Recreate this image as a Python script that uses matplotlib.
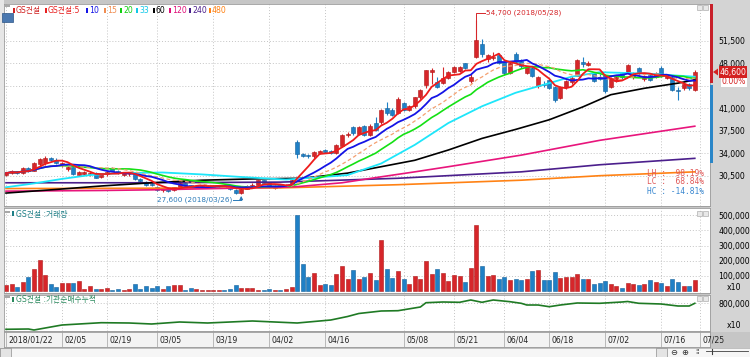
import numpy as np
import pandas as pd
import matplotlib
matplotlib.use("Agg")
import matplotlib.pyplot as plt
from matplotlib import font_manager
from matplotlib.patches import Rectangle, Polygon

# GS건설 daily candles, 2018/01/22 .. 2018/07/24
opens = [30600, 30900, 31200, 30900, 31700, 31300, 32300, 32400, 33200, 33000,
         32200, 31500, 31800, 30600, 30800, 30700, 30900, 30300, 30700, 31700,
         31300, 30600, 30700, 30800, 30000, 29500, 29200, 28800, 28200, 28600,
         28200, 28800, 29300, 29000, 28700, 28800, 28800, 28800, 28850, 28900,
         28700, 28300, 27800, 28500, 28900, 29100, 29800, 29300, 28600, 29000,
         28800, 29100, 35800, 33800, 33700, 33500, 34100, 34500, 34300, 34000,
         35100, 36800, 38000, 37000, 38200, 36800, 38700, 38800, 41000, 40700,
         40300, 41800, 40700, 41300, 42700, 44600, 46700, 45100, 44900, 45700,
         46600, 46800, 48000, 45200, 49000, 51000, 48700, 48800, 49300, 48200,
         46500, 49500, 48400, 46500, 47200, 44400, 44800, 45400, 44300, 42600,
         44300, 45000, 46000, 48200, 47700, 46400, 45900, 46100, 44300, 45300,
         46400, 46600, 45800, 47200, 45500, 46200, 45900, 47200, 45700, 45900,
         43900, 44100, 44700, 43900]
highs = [31000, 31400, 31300, 31900, 31800, 32700, 33300, 33600, 33400, 33200,
         32700, 32000, 31900, 31200, 31200, 31000, 31000, 30800, 31200, 31900,
         31400, 31100, 31000, 30900, 30100, 29600, 29400, 28900, 28600, 28700,
         28800, 29500, 29400, 29100, 29000, 29100, 29000, 29000, 29000, 29000,
         28800, 28400, 28600, 29000, 29300, 29900, 29900, 29400, 29000, 29100,
         29200, 30000, 36100, 34000, 33900, 34400, 34500, 34700, 34500, 35400,
         37000, 37300, 38200, 38200, 38400, 38600, 39600, 40800, 42000, 41000,
         42700, 42000, 41500, 42800, 44000, 47000, 47200, 45800, 47400, 46800,
         47500, 47600, 48100, 46300, 54700, 51800, 49500, 49700, 49600, 48400,
         48300, 49800, 48600, 47600, 47400, 46000, 45200, 45600, 44500, 44500,
         45400, 46000, 48700, 48900, 48300, 46600, 46300, 46300, 45900, 46000,
         46600, 47900, 46600, 47400, 46200, 46500, 46700, 47500, 46200, 46100,
         44300, 45000, 44900, 46900]
lows = [30400, 30700, 30800, 30800, 31100, 31200, 32000, 32200, 32800, 32300,
        31900, 31200, 30600, 30400, 30600, 30500, 30100, 30200, 30500, 31200,
        30800, 30500, 30500, 29900, 29500, 28900, 28900, 28100, 28000, 28000,
        28100, 28700, 28800, 28700, 28600, 28700, 28600, 28700, 28700, 28600,
        28300, 27700, 27600, 28400, 28800, 29000, 29300, 28700, 28500, 28700,
        28700, 29000, 33300, 33400, 33300, 33300, 33900, 34000, 33800, 33900,
        35000, 36500, 36900, 36900, 36700, 36700, 37400, 38600, 40000, 39800,
        40100, 40500, 40500, 41100, 42500, 44200, 44800, 44200, 44700, 45500,
        46400, 46600, 47100, 44900, 48800, 49000, 48200, 48500, 47900, 46200,
        46300, 48000, 47300, 46300, 45800, 44200, 44300, 44000, 42000, 42400,
        44000, 44800, 46400, 47400, 47500, 45000, 45400, 43400, 44100, 45000,
        45600, 46400, 45500, 46200, 45300, 45200, 45700, 45900, 45500, 43600,
        42300, 43900, 43900, 43700]
closes = [30900, 31200, 30900, 31700, 31300, 32400, 33100, 33200, 33000, 32500,
          32400, 31900, 30800, 31000, 31000, 30900, 30200, 30700, 31000, 31300,
          30900, 30900, 30800, 30000, 29600, 29100, 29000, 28200, 28400, 28100,
          28700, 29300, 28900, 28800, 28900, 28950, 28900, 28900, 28950, 28700,
          28400, 27800, 28500, 28900, 29100, 29800, 29400, 28800, 28900, 28800,
          29100, 29800, 33800, 33600, 33500, 34200, 34300, 34200, 34000, 35300,
          36800, 37000, 37100, 38000, 36900, 38300, 37600, 40700, 40200, 40000,
          42500, 40700, 41300, 42700, 43800, 46900, 46900, 44300, 45700, 46600,
          47400, 47400, 47200, 45900, 51600, 49500, 49200, 49000, 48100, 46500,
          48100, 48200, 47500, 47400, 46000, 45800, 44600, 44200, 42300, 44300,
          45200, 45700, 48500, 47900, 48000, 45200, 45600, 43600, 45700, 45800,
          45800, 47700, 46400, 46400, 46000, 45400, 46500, 46100, 46000, 43800,
          43700, 44800, 44100, 46600]

# volume (x10 shares), thousands
volume_k = [39, 50, 28, 61, 94, 144, 203, 105, 46, 28,
            54, 54, 54, 65, 17, 33, 17, 17, 24, 11,
            13, 11, 17, 50, 13, 33, 24, 33, 17, 33,
            39, 39, 11, 24, 17, 11, 11, 7, 7, 11,
            17, 39, 22, 24, 24, 11, 11, 17, 11, 7,
            17, 28, 503, 181, 94, 120, 39, 46, 39, 111,
            163, 83, 142, 83, 94, 120, 76, 338, 148, 87,
            131, 83, 46, 98, 79, 200, 116, 144, 120, 67,
            107, 103, 61, 150, 436, 163, 100, 105, 79, 94,
            72, 79, 72, 83, 133, 137, 72, 76, 126, 87,
            94, 91, 116, 79, 79, 50, 54, 65, 50, 33,
            24, 54, 50, 39, 50, 72, 61, 54, 33, 79,
            58, 33, 33, 72]

# institutional net-buy cumulative (x10), thousands, at some days
inst_idx = [0, 4, 5, 10, 17, 22, 26, 31, 36, 44, 52, 58, 61, 63, 67, 70, 74, 75, 78,
            81, 83, 85, 87, 90, 92, 93, 95, 97, 99, 102, 106, 110, 111, 113, 117,
            120, 122, 123]
inst_val = [540, 543, 533, 583, 606, 603, 593, 613, 603, 623, 603, 633, 668, 698, 723,
            726, 763, 806, 813, 810, 833, 810, 833, 816, 800, 783, 783, 766, 783, 803,
            800, 813, 818, 800, 793, 773, 773, 800]

# long moving averages
ma33_idx = [0, 5, 10, 15, 20, 28, 35, 42, 50, 55, 61, 67, 73, 79, 85, 91, 97, 101, 106, 114, 123]
ma33_val = [28700, 29300, 30000, 30600, 30900, 31000, 30700, 30300, 29900, 30200, 30600,
            32400, 35300, 38700, 41300, 43400, 44900, 45900, 46600, 46400, 45900]
ma60_idx = [0, 8, 17, 26, 35, 44, 53, 61, 67, 73, 79, 85, 91, 97, 103, 108, 114, 120, 123]
ma60_val = [27800, 28300, 28900, 29400, 29800, 30000, 30100, 30900, 31900, 32900, 34500,
            36300, 37700, 39200, 41200, 43100, 44100, 44900, 45400]
ma120_idx = [0, 17, 26, 49, 52, 60, 66, 73, 79, 92, 106, 123]
ma120_val = [28100, 28200, 28300, 28700, 28800, 29400, 30200, 31100, 31900, 33700, 36000, 38200]
ma240_idx = [0, 25, 49, 70, 92, 106, 123]
ma240_val = [29400, 29400, 29500, 30100, 31100, 32200, 33200]
ma480_idx = [0, 49, 70, 92, 106, 123]
ma480_val = [28500, 28600, 29100, 29800, 30500, 31100]

tick_idx = [0, 10, 18, 27, 37, 47, 57, 71, 80, 89, 97, 107, 117, 124]
tick_lbl = ['2018/01/22', '02/05', '02/19', '03/05', '03/19', '04/02', '04/16',
            '05/08', '05/21', '06/04', '06/18', '07/02', '07/16', '07/25']
price_ticks = [30500, 34000, 37500, 41000, 44500, 48000, 51500]
vol_ticks = [100000, 200000, 300000, 400000, 500000]

# fonts
names = {f.name for f in font_manager.fontManager.ttflist}
if 'Liberation Sans Narrow' in names:
    NAR, FS = 'Liberation Sans Narrow', 7.2
else:
    NAR, FS = 'DejaVu Sans', 5.6
KR = [NAR, 'Noto Sans CJK KR']

RED = '#d6262a'
BLUE = '#1f80c6'
GRID = '#c4c4c4'

W, H = 750, 357
fig = plt.figure(figsize=(7.5, 3.57), dpi=100)
fig.patch.set_facecolor('#c6c6c6')


def fx(px):
    return px / W


def fy(py):
    return 1 - py / H


def prect(x0, y0, x1, y1, **kw):
    r = Rectangle((fx(x0), fy(y1)), (x1 - x0) / W, (y1 - y0) / H,
                  transform=fig.transFigure, **kw)
    fig.add_artist(r)
    return r


def add_ax(y0, y1, x0=4, x1=710):
    return fig.add_axes([fx(x0), fy(y1), (x1 - x0) / W, (y1 - y0) / H])


# background pieces
prect(710, 0, 750, 332, fc='#d4d4d4', ec='none', zorder=-2)
prect(0, 0, 4, 348, fc='#e6e6e6', ec='none', zorder=-2)

ax_p = add_ax(4, 206)
ax_v = add_ax(208, 293)
ax_i = add_ax(295, 331)
ax_d = add_ax(332, 347)

n = len(closes)
x = np.arange(n)
o = np.array(opens)
h = np.array(highs)
l = np.array(lows)
c = np.array(closes)
up = c >= o
cols = np.where(up, RED, BLUE)
edges = np.where(up, '#b01818', '#15609a')

xl = ((4 - 6) / 5.6, (710 - 6) / 5.6)
for ax in (ax_p, ax_v, ax_i, ax_d):
    ax.set_xlim(*xl)
    ax.set_facecolor('white')
    for s in ax.spines.values():
        s.set_color('#9a9a9a')
        s.set_linewidth(0.6)
    ax.set_xticks(tick_idx)
    ax.tick_params(axis='x', length=0, labelbottom=False)
    ax.yaxis.tick_right()
    ax.tick_params(axis='y', length=0, pad=6, labelsize=FS)
    ax.grid(True, color=GRID, linestyle=(0, (1, 2)), linewidth=0.7)
    ax.set_axisbelow(True)

# price panel (44,500 label sits under the 0.00% box in the original, so only its grid line)
ax_p.set_ylim(25787, 57210)
ax_p.set_yticks(price_ticks)
ax_p.set_yticklabels(['' if v == 44500 else f'{v:,}' for v in price_ticks],
                     fontfamily=NAR, fontsize=FS)
ax_p.vlines(x, l, h, colors=cols, linewidth=0.8, zorder=2)
body = np.maximum(np.abs(c - o), 60)
ax_p.bar(x, body, bottom=np.minimum(o, c), width=0.72, color=cols,
         edgecolor=edges, linewidth=0.4, zorder=2)

cs = pd.Series(closes, dtype=float)
ma5 = cs.rolling(5, min_periods=1).mean()
ma10 = cs.rolling(10, min_periods=1).mean()
ma15 = cs.rolling(15, min_periods=1).mean()
ma20 = cs.rolling(20, min_periods=1).mean()

ax_p.plot(ma480_idx, ma480_val, color='#ff8214', lw=1.2, zorder=3)
ax_p.plot(ma240_idx, ma240_val, color='#4b1f8c', lw=1.2, zorder=3)
ax_p.plot(ma120_idx, ma120_val, color='#e8157c', lw=1.2, zorder=3)
ax_p.plot(ma60_idx, ma60_val, color='#000000', lw=1.2, zorder=3)
ax_p.plot(ma33_idx, ma33_val, color='#1ee6fa', lw=1.3, zorder=3)
ax_p.plot(x, ma20, color='#14e014', lw=1.2, zorder=3)
ax_p.plot(x, ma15, color='#f4a070', lw=0.9, ls=(0, (3, 2)), zorder=3)
ax_p.plot(x, ma10, color='#1414e6', lw=1.3, zorder=3)
ax_p.plot(x, ma5, color='#ee1c1c', lw=1.3, zorder=4)

# high / low annotations
ih = int(np.argmax(h))
y_top = 55810
ax_p.plot([ih, ih, ih + 1.6], [h[ih], y_top, y_top], color=RED, lw=0.7, zorder=4)
ax_p.text(ih + 1.7, y_top, f'{h[ih]:,} (2018/05/28)', color=RED, fontsize=FS - 0.4,
          fontfamily=NAR, va='center', ha='left')
il = int(np.argmin(l))
y_bot = 26720
ax_p.annotate('', xy=(il, l[il] - 250), xytext=(il, y_bot),
              arrowprops=dict(arrowstyle='-|>', color='#2a7ab8', lw=0.7,
                              mutation_scale=5, shrinkA=0, shrinkB=0), zorder=4)
ax_p.plot([il - 1.5, il], [y_bot, y_bot], color='#2a7ab8', lw=0.7, zorder=4)
ax_p.text(il - 1.6, y_bot, f'{l[il]:,} (2018/03/26)', color='#2a7ab8',
          fontsize=FS - 0.4, fontfamily=NAR, va='center', ha='right')

# LH / LC / HC box
for yy, txt, col in [(173, 'LH :  98.19%', '#e05858'), (182, 'LC :  68.84%', '#e05858'),
                     (191, 'HC : -14.81%', '#3a88d0')]:
    fig.text(fx(704), fy(yy), txt, color=col, fontsize=5.7, family='DejaVu Sans Mono',
             ha='right', va='center')

# volume panel
ax_v.set_ylim(-11500, 546000)
ax_v.set_yticks(vol_ticks)
ax_v.set_yticklabels([f'{v:,}' for v in vol_ticks], fontfamily=NAR, fontsize=FS)
ax_v.bar(x, np.array(volume_k) * 1000, width=0.72, color=cols, edgecolor=edges,
         linewidth=0.4, zorder=2)

# institutional cumulative panel
ax_i.set_ylim(523000, 883000)
ax_i.set_yticks([800000])
ax_i.set_yticklabels(['800,000'], fontfamily=NAR, fontsize=FS)
ax_i.plot(inst_idx, np.array(inst_val) * 1000, color='#1f7a24', lw=1.2, zorder=3)

# date band
ax_d.set_facecolor('#f3f3f3')
ax_d.set_ylim(0, 1)
ax_d.set_yticks([])
ax_d.grid(False)
ax_d.vlines(tick_idx, 0, 1, color='#b0b0b0', lw=0.6)
for ti, tl in zip(tick_idx, tick_lbl):
    ax_d.text(ti + 0.45, 0.45, tl, fontsize=FS, fontfamily=NAR, color='#222222',
              ha='left', va='center')

fig.text(fx(734), fy(287), 'x10', fontsize=FS, family=NAR, ha='center', va='center')
fig.text(fx(734), fy(325), 'x10', fontsize=FS, family=NAR, ha='center', va='center')

# legend row
legend = [(13, 'GS건설', '#d02020'), (45, 'GS건설:5', '#e82020'), (86, '10', '#1414e6'),
          (104, '15', '#f08c50'), (120, '20', '#10d010'), (136, '33', '#10c8e8'),
          (153, '60', '#000000'), (169, '120', '#e0107a'), (189, '240', '#4b1f8c'),
          (209, '480', '#ff8214')]
for px, lab, col in legend:
    prect(px, 7.5, px + 2, 12.5, fc=col, ec='none', zorder=5)
    fig.text(fx(px + 3), fy(10.3), lab, color=col, fontsize=5.6, family=KR,
             ha='left', va='center')

for yy, lab, col in [(214, 'GS건설 :거래량', '#1e7f86'), (299, 'GS건설 :기관순매수누적', '#2a8a5e')]:
    prect(12, yy - 2.5, 14, yy + 2.5, fc=col, ec='none', zorder=5)
    fig.text(fx(15.5), fy(yy + 0.3), lab, color=col, fontsize=5.6, family=KR,
             ha='left', va='center')

# small panel buttons
for yy in (5, 211, 296):
    prect(5, yy, 10, yy + 2, fc='#a8a8a8', ec='none', zorder=5)
    prect(697, yy, 702, yy + 5, fc='#e8e8e8', ec='#a0a0a0', lw=0.4, zorder=5)
    prect(703, yy, 708, yy + 5, fc='#e8e8e8', ec='#a0a0a0', lw=0.4, zorder=5)
prect(2, 13, 13, 22, fc='#4a78b0', ec='#2c5486', lw=0.5, zorder=5)
fig.text(fx(7.5), fy(17.5), '호', color='white', fontsize=5.5, family=KR,
         ha='center', va='center')

# right edge price range bar and current price box
prect(710, 4, 713, 83, fc='#c8202a', ec='none', zorder=5)
prect(710, 85, 713, 163, fc='#2a86c8', ec='none', zorder=5)
fig.add_artist(Polygon([(fx(713), fy(72)), (fx(718), fy(68.5)), (fx(718), fy(75.5))],
                       closed=True, transform=fig.transFigure, fc='#d42020', ec='none', zorder=5))
prect(719, 66, 747, 78, fc='#d42020', ec='none', zorder=5)
fig.text(fx(733), fy(72.2), f'{closes[-1]:,}', color='white', fontsize=FS, family=NAR,
         ha='center', va='center', zorder=6)
prect(721, 77.5, 747, 86.5, fc='white', ec='none', zorder=5)
fig.text(fx(734), fy(82), '0.00%', color='#d42020', fontsize=FS, family=NAR,
         ha='center', va='center', zorder=6)

# bottom toolbar
prect(0, 348, 750, 357, fc='#f6f6f6', ec='#b4b4b4', lw=0.5, zorder=-1)
prect(0, 348, 11, 357, fc='#e4e4e4', ec='#909090', lw=0.5, zorder=5)
fig.text(fx(5.5), fy(352.5), '◀', fontsize=4, ha='center', va='center', color='#303030')
prect(656, 348, 667, 357, fc='#e4e4e4', ec='#909090', lw=0.5, zorder=5)
fig.text(fx(661.5), fy(352.5), '▶', fontsize=4, ha='center', va='center', color='#303030')
fig.text(fx(674), fy(352.5), '⊖', fontsize=6, ha='center', va='center', color='#303030')
fig.text(fx(685), fy(352.5), '⊕', fontsize=6, ha='center', va='center', color='#303030')
fig.text(fx(697), fy(352.5), '⁞⁞', fontsize=5, ha='center', va='center', color='#303030')
fig.add_artist(plt.Line2D([fx(706), fx(748)], [fy(351), fy(351)], color='#404040', lw=0.6,
                          transform=fig.transFigure))
fig.add_artist(plt.Line2D([fx(712), fx(712)], [fy(349), fy(354)], color='#404040', lw=0.8,
                          transform=fig.transFigure))

fig.savefig('out.png', dpi=100, facecolor=fig.get_facecolor())
